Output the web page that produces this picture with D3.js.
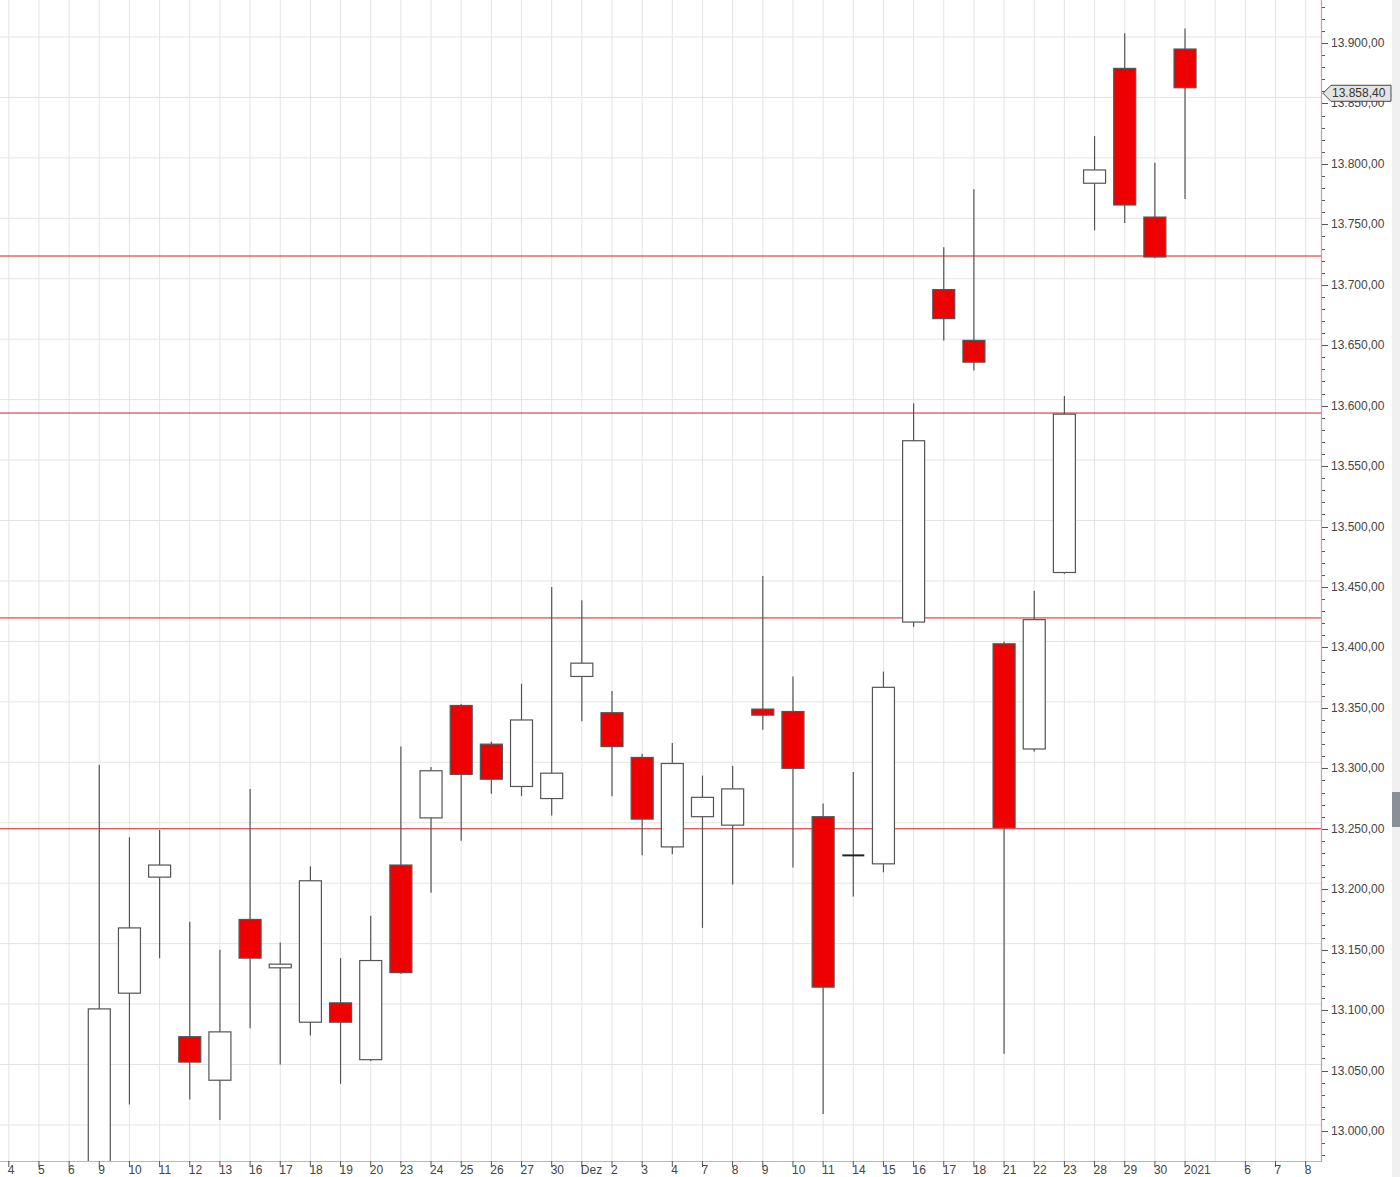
<!DOCTYPE html>
<html><head><meta charset="utf-8">
<script src="https://cdn.jsdelivr.net/npm/d3@7"></script>
<style>html,body{margin:0;padding:0;background:#fff;overflow:hidden}</style>
</head><body>
<svg id="c" width="1400" height="1177"></svg>
<script>
// ---- data ----
const dateKeys = ["2020-11-04","2020-11-05","2020-11-06","2020-11-09","2020-11-10","2020-11-11","2020-11-12","2020-11-13",
  "2020-11-16","2020-11-17","2020-11-18","2020-11-19","2020-11-20","2020-11-23","2020-11-24","2020-11-25","2020-11-26","2020-11-27",
  "2020-11-30","2020-12-01","2020-12-02","2020-12-03","2020-12-04","2020-12-07","2020-12-08","2020-12-09","2020-12-10","2020-12-11",
  "2020-12-14","2020-12-15","2020-12-16","2020-12-17","2020-12-18","2020-12-21","2020-12-22","2020-12-23","2020-12-28","2020-12-29",
  "2020-12-30","2021-01-04","2021-01-05","2021-01-06","2021-01-07","2021-01-08"];
const tickLabels = ["4","5","6","9","10","11","12","13","16","17","18","19","20","23","24","25","26","27","30","Dez",
  "2","3","4","7","8","9","10","11","14","15","16","17","18","21","22","23","28","29","30","2021","","6","7","8"];

const candleDates = ["2020-11-09","2020-11-10","2020-11-11","2020-11-12","2020-11-13","2020-11-16","2020-11-17","2020-11-18",
  "2020-11-19","2020-11-20","2020-11-23","2020-11-24","2020-11-25","2020-11-26","2020-11-27","2020-11-30","2020-12-01","2020-12-02",
  "2020-12-03","2020-12-04","2020-12-07","2020-12-08","2020-12-09","2020-12-10","2020-12-11","2020-12-14","2020-12-15","2020-12-16",
  "2020-12-17","2020-12-18","2020-12-21","2020-12-22","2020-12-23","2020-12-28","2020-12-29","2020-12-30","2021-01-04"];
const opens  = [12560,13114,13210,13078,13042,13175,13135,13090,13106,13059,13220,13259,13352,13320,13285,13275,13376,13346,
  13309,13235,13260,13253,13349,13347,13260,13228,13221,13421,13696,13654,13403,13316,13462,13784,13879,13756,13895];
const highs  = [13303,13243,13249,13173,13150,13283,13156,13219,13143,13178,13318,13301,13353,13322,13370,13450,13439,13364,
  13312,13321,13294,13302,13459,13376,13271,13297,13380,13602,13731,13779,13405,13447,13608,13823,13908,13801,13912];
const lows   = [12470,13022,13143,13026,13009,13085,13055,13079,13039,13058,13130,13197,13240,13279,13277,13261,13339,13277,
  13228,13229,13168,13204,13332,13218,13014,13194,13214,13417,13654,13629,13064,13314,13461,13745,13751,13722,13771];
const closes = [13101,13168,13220,13057,13082,13143,13138,13207,13090,13141,13131,13298,13295,13291,13340,13296,13387,13318,
  13258,13304,13276,13283,13344,13300,13119,13228,13367,13571,13672,13636,13251,13423,13593,13795,13766,13723,13863];

const yTickValues = [13000,13050,13100,13150,13200,13250,13300,13350,13400,13450,13500,13550,13600,13650,13700,13750,13800,13850,13900];
const levelLines = [13250, 13424.4, 13593.9, 13723.8];
const lastPrice = 13858.40;

// ---- layout ----
const plotRight = 1321, plotBottom = 1161;
const svg = d3.select("#c");
const x = d3.scalePoint().domain(dateKeys).range([8.8, 8.8 + 43 * 30.16]);
const y = d3.scaleLinear().domain([13000, 13900]).range([1131, 43]);
const fmt = v => d3.format(",.2f")(v).replace(/,/g, "X").replace(/\./g, ",").replace(/X/g, ".");
const font = "'Liberation Sans', Arial, sans-serif";

svg.append("rect").attr("width", 1400).attr("height", 1177).attr("fill", "#fff");
// scrollbar strip
svg.append("rect").attr("x", 1392).attr("y", 0).attr("width", 8).attr("height", 1177).attr("fill", "#f0f0f0");
svg.append("rect").attr("x", 1392).attr("y", 792).attr("width", 8).attr("height", 35).attr("fill", "#8a9098");

svg.append("defs").append("clipPath").attr("id", "plot")
  .append("rect").attr("x", 0).attr("y", 0).attr("width", plotRight).attr("height", plotBottom);
const g = svg.append("g").attr("clip-path", "url(#plot)");

// grid
g.selectAll("line.vg").data(dateKeys).enter().append("line")
  .attr("x1", d => x(d)).attr("x2", d => x(d)).attr("y1", 0).attr("y2", plotBottom)
  .attr("stroke", "#e4e4e4").attr("stroke-width", 1);
const gridVals = d3.range(12950, 13951, 50).map(v => v + 5);
g.selectAll("line.hg").data(gridVals).enter().append("line")
  .attr("x1", 0).attr("x2", plotRight).attr("y1", d => y(d)).attr("y2", d => y(d))
  .attr("stroke", "#e4e4e4").attr("stroke-width", 1);

// level lines
g.selectAll("line.lv").data(levelLines).enter().append("line")
  .attr("x1", 0).attr("x2", plotRight).attr("y1", d => y(d)).attr("y2", d => y(d))
  .attr("stroke", "#d42020").attr("stroke-width", 1);

// candles
const candles = candleDates.map((d, i) => ({d, o: opens[i], h: highs[i], l: lows[i], c: closes[i]}));
const bw = 22;
g.selectAll("line.wick").data(candles).enter().append("line")
  .attr("x1", d => x(d.d)).attr("x2", d => x(d.d)).attr("y1", d => y(d.h)).attr("y2", d => y(d.l))
  .attr("stroke", "#555").attr("stroke-width", 1.2);
g.selectAll("rect.body").data(candles.filter(d => d.o !== d.c)).enter().append("rect")
  .attr("x", d => x(d.d) - bw / 2).attr("width", bw)
  .attr("y", d => y(Math.max(d.o, d.c))).attr("height", d => Math.abs(y(d.o) - y(d.c)))
  .attr("fill", d => d.c < d.o ? "#ee0000" : "#ffffff")
  .attr("stroke", "#555").attr("stroke-width", 1.2);
g.selectAll("line.doji").data(candles.filter(d => d.o === d.c)).enter().append("line")
  .attr("x1", d => x(d.d) - bw / 2).attr("x2", d => x(d.d) + bw / 2).attr("y1", d => y(d.o)).attr("y2", d => y(d.o))
  .attr("stroke", "#222").attr("stroke-width", 2);

// x axis
svg.append("line").attr("x1", 0).attr("x2", plotRight).attr("y1", plotBottom + 0.5).attr("y2", plotBottom + 0.5)
  .attr("stroke", "#c8b2b6");
const shown = dateKeys.map((d, i) => ({d, t: tickLabels[i]})).filter(e => e.t !== "");
svg.selectAll("line.xt").data(shown).enter().append("line")
  .attr("x1", d => x(d.d)).attr("x2", d => x(d.d)).attr("y1", plotBottom).attr("y2", plotBottom + 6)
  .attr("stroke", "#555");
svg.selectAll("text.xl").data(shown).enter().append("text")
  .attr("x", d => x(d.d) - 1).attr("y", 1173.5)
  .attr("font-family", font).attr("font-size", 12).attr("fill", "#444")
  .text(d => d.t);

// y axis
svg.append("line").attr("x1", plotRight + 0.5).attr("x2", plotRight + 0.5).attr("y1", 0).attr("y2", plotBottom + 1)
  .attr("stroke", "#c8a2a8").attr("stroke-width", 1.3);
const minorVals = d3.range(12980, 13940, 10).filter(v => v % 50 !== 0);
svg.selectAll("line.ymn").data(minorVals).enter().append("line")
  .attr("x1", plotRight + 1).attr("x2", plotRight + 4).attr("y1", d => Math.round(y(d)) + 0.5).attr("y2", d => Math.round(y(d)) + 0.5)
  .attr("stroke", "#555");
svg.selectAll("line.ymj").data(yTickValues).enter().append("line")
  .attr("x1", plotRight + 1).attr("x2", plotRight + 7).attr("y1", d => Math.round(y(d)) + 0.5).attr("y2", d => Math.round(y(d)) + 0.5)
  .attr("stroke", "#555");
svg.selectAll("text.yl").data(yTickValues).enter().append("text")
  .attr("x", 1331).attr("y", d => y(d) + 4)
  .attr("font-family", font).attr("font-size", 12).attr("fill", "#444")
  .text(d => fmt(d));

// last price tag
const py = y(lastPrice);
svg.append("path")
  .attr("d", `M${plotRight + 2},${py} L${plotRight + 10},${py - 8} L1391,${py - 8} L1391,${py + 8} L${plotRight + 10},${py + 8} Z`)
  .attr("fill", "#e4e4e4").attr("stroke", "#444").attr("stroke-width", 1);
svg.append("text").attr("x", 1332).attr("y", py + 4)
  .attr("font-family", font).attr("font-size", 12).attr("fill", "#333")
  .text(fmt(lastPrice));
</script>
</body></html>
